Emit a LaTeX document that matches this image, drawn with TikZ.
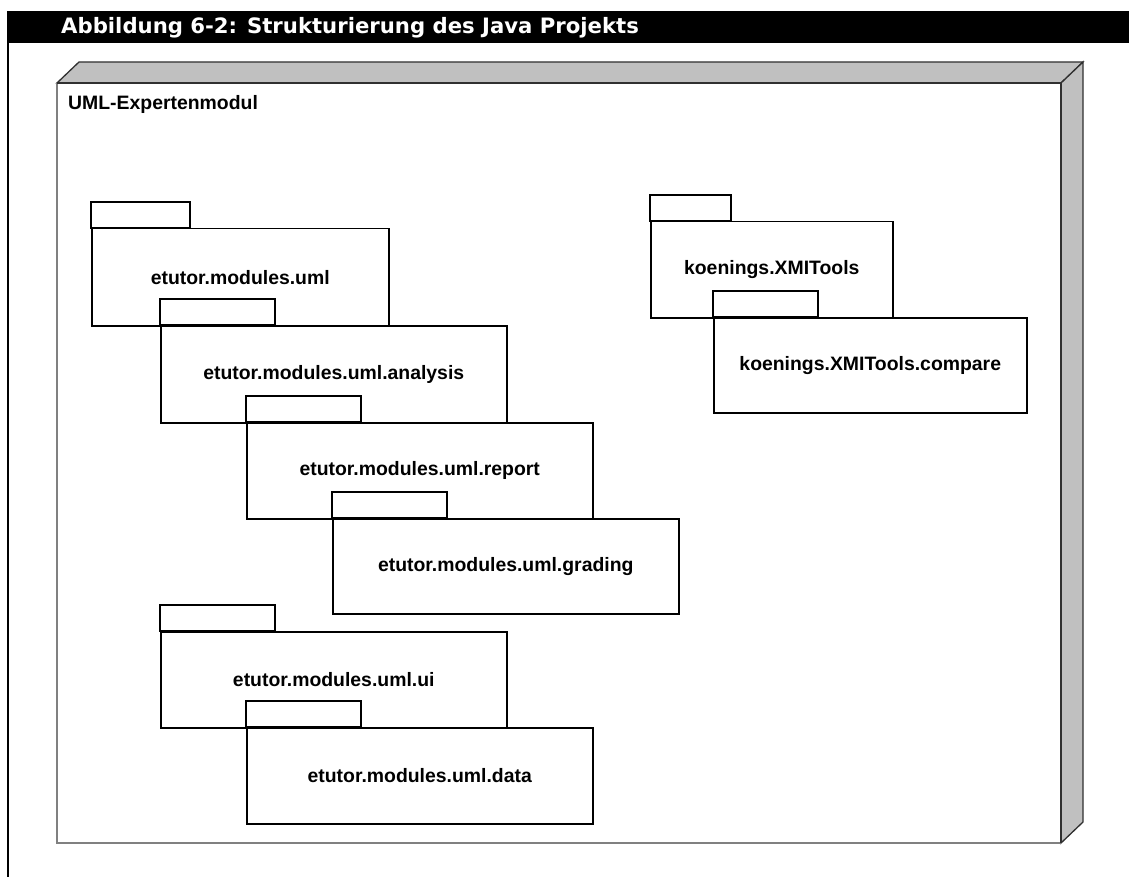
\documentclass[tikz,border=0pt]{standalone}
\usepackage{fontspec}
\setmainfont{Liberation Sans}
\newfontfamily\titlefont{DejaVu Sans}
\definecolor{sideface}{HTML}{C0C0C0}
\definecolor{edgedark}{HTML}{303030}
\definecolor{edgelight}{HTML}{808080}

% package: body node (north west corner, size) plus tab on its top-left
\newcommand{\pkgbox}[7]{%
  \node[pkg, minimum width=#4pt, minimum height=#5pt] (#1) at (#2,#3) {#7};
  \draw[pkgtab] (#1.north west) rectangle ++(#6,-26);
}

\begin{document}
\begin{tikzpicture}[x=1pt,y=-1pt,
  pkg/.style={draw, line width=1.5pt, fill=white, inner sep=0pt, anchor=north west,
              font=\fontsize{19.4}{23}\selectfont\bfseries},
  pkgtab/.style={draw, line width=1.5pt, fill=white},
  face/.style={fill=sideface, draw=edgedark, line width=1.3pt, line join=miter}]
\useasboundingbox (0,0) rectangle (1129,877);

% caption bar and left rule
\fill[black] (7,11) rectangle (1129,43);
\draw[line width=2pt] (8,43) -- (8,877);
\node[anchor=base west, text=white, inner sep=0pt,
      font=\titlefont\bfseries\fontsize{21.2}{25}\selectfont] (title) at (61,34)
  {Abbildung 6-2: Strukturierung des Java Projekts};

% 3D node box
\coordinate (fnw) at (57,83);
\coordinate (fne) at (1061,83);
\coordinate (fse) at (1061,843);
\coordinate (fsw) at (57,843);
\coordinate (bnw) at (79,62);
\coordinate (bne) at (1083,62);
\coordinate (bse) at (1083,822);
\draw[face] (fnw) -- (bnw) -- (bne) -- (fne) -- cycle;
\draw[face] (fne) -- (bne) -- (bse) -- (fse) -- cycle;
\draw[edgelight, line width=1.5pt] (fne) -- (fnw) -- (fsw) -- (fse);
\draw[edgedark, line width=1.3pt] (fnw) -- (fne) -- (fse);
\node[anchor=base west, inner sep=0pt, font=\fontsize{19.4}{23}\selectfont\bfseries]
  (nodename) at (68,110) {UML-Expertenmodul};

% packages
\pkgbox{uml}{91}{228}{297}{97}{99}{etutor.modules.uml}
\pkgbox{analysis}{160}{325}{346}{97}{115}{etutor.modules.uml.analysis}
\pkgbox{report}{246}{422}{346}{96}{115}{etutor.modules.uml.report}
\pkgbox{grading}{332}{518}{346}{95}{115}{etutor.modules.uml.grading}
\pkgbox{ui}{160}{631}{346}{96}{115}{etutor.modules.uml.ui}
\pkgbox{data}{246}{727}{346}{96}{115}{etutor.modules.uml.data}
\pkgbox{xmi}{650}{221}{242}{96}{81}{koenings.XMITools}
\pkgbox{compare}{713}{317}{313}{95}{105}{koenings.XMITools.compare}

\end{tikzpicture}
\end{document}
